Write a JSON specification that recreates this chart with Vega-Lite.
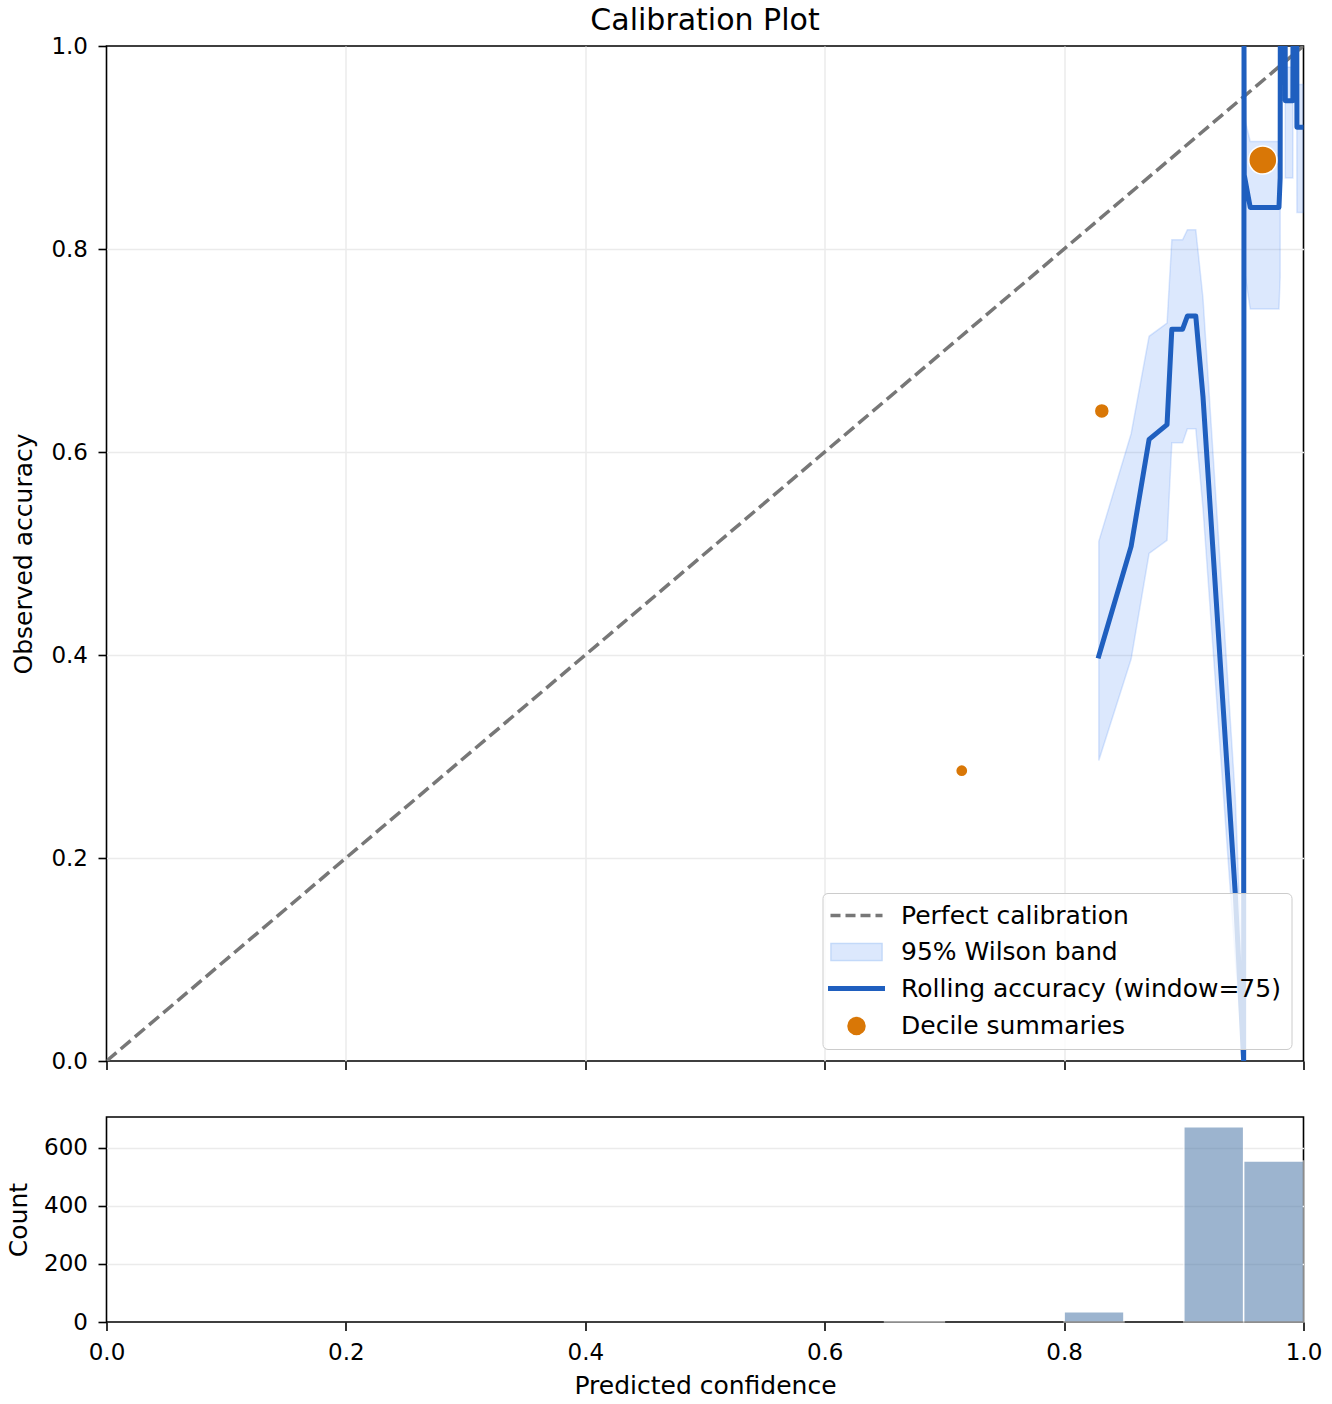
{
  "$schema": "https://vega.github.io/schema/vega-lite/v6.json",
  "background": "#ffffff",
  "padding": {"left": 5.5, "top": 6, "right": 10, "bottom": 9},
  "title": {
    "text": "Calibration Plot",
    "fontSize": 30,
    "fontWeight": "normal",
    "color": "#000000",
    "anchor": "middle",
    "frame": "group",
    "offset": -2
  },
  "datasets": {
    "diag": [
      {"conf": 0, "acc": 0},
      {"conf": 1, "acc": 1}
    ],
    "roll": [
      {"conf": 0.829, "acc": 0.399, "lo": 0.296, "hi": 0.512},
      {"conf": 0.856, "acc": 0.507, "lo": 0.396, "hi": 0.618},
      {"conf": 0.871, "acc": 0.6125, "lo": 0.5, "hi": 0.714},
      {"conf": 0.886, "acc": 0.627, "lo": 0.513, "hi": 0.727},
      {"conf": 0.89, "acc": 0.721, "lo": 0.609, "hi": 0.809},
      {"conf": 0.899, "acc": 0.721, "lo": 0.609, "hi": 0.809},
      {"conf": 0.903, "acc": 0.734, "lo": 0.623, "hi": 0.819},
      {"conf": 0.91, "acc": 0.734, "lo": 0.623, "hi": 0.819},
      {"conf": 0.916, "acc": 0.655, "lo": 0.545, "hi": 0.752},
      {"conf": 0.943, "acc": 0.165, "lo": 0.1, "hi": 0.26},
      {"conf": 0.95, "acc": 0.0, "lo": 0.0, "hi": 0.049},
      {"conf": 0.9503, "acc": 1.0, "lo": 0.951, "hi": 1.0},
      {"conf": 0.9505, "acc": 0.873, "lo": 0.78, "hi": 0.93},
      {"conf": 0.9555, "acc": 0.841, "lo": 0.741, "hi": 0.906},
      {"conf": 0.9795, "acc": 0.841, "lo": 0.741, "hi": 0.906},
      {"conf": 0.9805, "acc": 0.87, "lo": 0.772, "hi": 0.93},
      {"conf": 0.9806, "acc": 1.0, "lo": 0.951, "hi": 1.0},
      {"conf": 0.9847, "acc": 1.0, "lo": 0.951, "hi": 1.0},
      {"conf": 0.9848, "acc": 0.946, "lo": 0.87, "hi": 0.979},
      {"conf": 0.9911, "acc": 0.946, "lo": 0.87, "hi": 0.979},
      {"conf": 0.9912, "acc": 1.0, "lo": 0.951, "hi": 1.0},
      {"conf": 0.9944, "acc": 1.0, "lo": 0.951, "hi": 1.0},
      {"conf": 0.9945, "acc": 0.92, "lo": 0.836, "hi": 0.962},
      {"conf": 1.0, "acc": 0.92, "lo": 0.836, "hi": 0.962}
    ],
    "dec": [
      {"conf": 0.7145, "acc": 0.286, "n": 4, "series": "Decile summaries"},
      {"conf": 0.8315, "acc": 0.6405, "n": 38, "series": "Decile summaries"},
      {"conf": 0.966, "acc": 0.8877, "n": 1220, "series": "Decile summaries"}
    ],
    "hist": [
      {"b0": 0.65, "b1": 0.7, "count": 3},
      {"b0": 0.8, "b1": 0.85, "count": 35},
      {"b0": 0.9, "b1": 0.95, "count": 673},
      {"b0": 0.95, "b1": 1.0, "count": 555}
    ]
  },
  "spacing": 56,
  "bounds": "flush",
  "resolve": {
    "scale": {"fill": "independent", "stroke": "independent", "shape": "independent", "strokeWidth": "independent", "size": "independent"},
    "legend": {"fill": "independent", "stroke": "independent", "shape": "independent", "strokeWidth": "independent", "size": "independent"}
  },
  "vconcat": [
    {
      "width": 1197,
      "height": 1015,
      "encoding": {
        "x": {
          "field": "conf",
          "type": "quantitative",
          "scale": {"domain": [0, 1], "nice": false},
          "axis": {"values": [0, 0.2, 0.4, 0.6, 0.8, 1.0], "labels": false, "title": null, "grid": true}
        },
        "y": {
          "field": "acc",
          "type": "quantitative",
          "scale": {"domain": [0, 1], "nice": false},
          "axis": {"values": [0, 0.2, 0.4, 0.6, 0.8, 1.0], "format": ".1f", "title": "Observed accuracy", "titlePadding": 14.5, "grid": true}
        }
      },
      "layer": [
        {
          "data": {"name": "diag"},
          "mark": {"type": "line", "color": "#777777", "strokeWidth": 3.5, "strokeDash": [13, 5.6], "clip": true}
        },
        {
          "data": {"name": "roll"},
          "mark": {"type": "area", "color": "#3b82f6", "fillOpacity": 0.18, "stroke": "#3b82f6", "strokeOpacity": 0.18, "strokeWidth": 1.5, "clip": true},
          "encoding": {
            "y": {
              "field": "lo",
              "type": "quantitative",
              "scale": {"domain": [0, 1], "nice": false},
              "axis": {"values": [0, 0.2, 0.4, 0.6, 0.8, 1.0], "format": ".1f", "title": "Observed accuracy", "titlePadding": 14.5, "grid": true}
            },
            "y2": {"field": "hi"}
          }
        },
        {
          "data": {"name": "roll"},
          "mark": {"type": "line", "color": "#1f5fbf", "strokeWidth": 5, "strokeJoin": "round", "strokeCap": "square", "clip": true}
        },
        {
          "data": {"name": "dec"},
          "mark": {"type": "point", "filled": true, "opacity": 1},
          "encoding": {
            "fill": {
              "field": "series",
              "type": "nominal",
              "scale": {
                "domain": ["Perfect calibration", "95% Wilson band", "Rolling accuracy (window=75)", "Decile summaries"],
                "range": ["#777777", "#dce8fd", "#1f5fbf", "#d97706"]
              },
              "legend": {
                "title": null,
                "orient": "bottom-right",
                "offset": 12,
                "padding": 10,
                "fillColor": "rgba(255,255,255,0.8)",
                "strokeColor": "#cccccc",
                "cornerRadius": 5,
                "labelFontSize": 25,
                "labelColor": "#000000",
                "labelLimit": 800,
                "symbolSize": 400,
                "symbolOffset": 11.5,
                "labelOffset": 32,
                "rowPadding": 10.5,
                "symbolOpacity": 1
              }
            },
            "stroke": {
              "field": "series",
              "type": "nominal",
              "scale": {
                "domain": ["Perfect calibration", "95% Wilson band", "Rolling accuracy (window=75)", "Decile summaries"],
                "range": ["#777777", "#c3d9f9", "#1f5fbf", "#ffffff"]
              }
            },
            "shape": {
              "field": "series",
              "type": "nominal",
              "scale": {
                "domain": ["Perfect calibration", "95% Wilson band", "Rolling accuracy (window=75)", "Decile summaries"],
                "range": [
                  "M-2.6,0H-1.6M-1.1,0H-0.1M0.4,0H1.4M1.9,0H2.6",
                  "M-2.55,-0.85H2.55V0.85H-2.55Z",
                  "M-2.85,0H2.85",
                  "circle"
                ]
              }
            },
            "strokeWidth": {
              "field": "series",
              "type": "nominal",
              "scale": {
                "type": "ordinal",
                "domain": ["Perfect calibration", "95% Wilson band", "Rolling accuracy (window=75)", "Decile summaries"],
                "range": [3.5, 1.5, 5, 1.5]
              }
            },
            "size": {
              "field": "n",
              "type": "quantitative",
              "scale": {"domain": [4, 38, 1220], "range": [150, 225, 790]},
              "legend": null
            }
          }
        }
      ]
    },
    {
      "width": 1197,
      "height": 205,
      "data": {"name": "hist"},
      "mark": {"type": "bar", "orient": "vertical", "color": "#4c78a8", "opacity": 0.55, "stroke": "#ffffff", "strokeWidth": 1.5, "strokeOpacity": 1},
      "encoding": {
        "x": {
          "field": "b0",
          "type": "quantitative",
          "scale": {"domain": [0, 1], "nice": false, "padding": 0},
          "axis": {"values": [0, 0.2, 0.4, 0.6, 0.8, 1.0], "format": ".1f", "title": "Predicted confidence", "titlePadding": 9, "grid": false}
        },
        "x2": {"field": "b1"},
        "y": {
          "field": "count",
          "type": "quantitative",
          "scale": {"domain": [0, 706.6], "nice": false},
          "axis": {"values": [0, 200, 400, 600], "title": "Count", "grid": true}
        },
        "y2": {"datum": 0}
      }
    }
  ],
  "config": {
    "font": "DejaVu Sans",
    "view": {"stroke": "#000000", "strokeWidth": 1.6},
    "axis": {
      "domain": false,
      "ticks": true,
      "tickColor": "#000000",
      "tickSize": 8.5,
      "tickWidth": 1.6,
      "labelFontSize": 23,
      "labelColor": "#000000",
      "labelPadding": 10.5,
      "labelFlush": false,
      "labelOverlap": false,
      "titleFontSize": 25,
      "titleFontWeight": "normal",
      "titleColor": "#000000",
      "titlePadding": 12,
      "gridColor": {
        "condition": {"test": "datum.value <= 0 || datum.value === 1", "value": "transparent"},
        "value": "#ebebeb"
      },
      "gridWidth": 1.5
    },
    "legend": {"labelFont": "DejaVu Sans"}
  }
}
